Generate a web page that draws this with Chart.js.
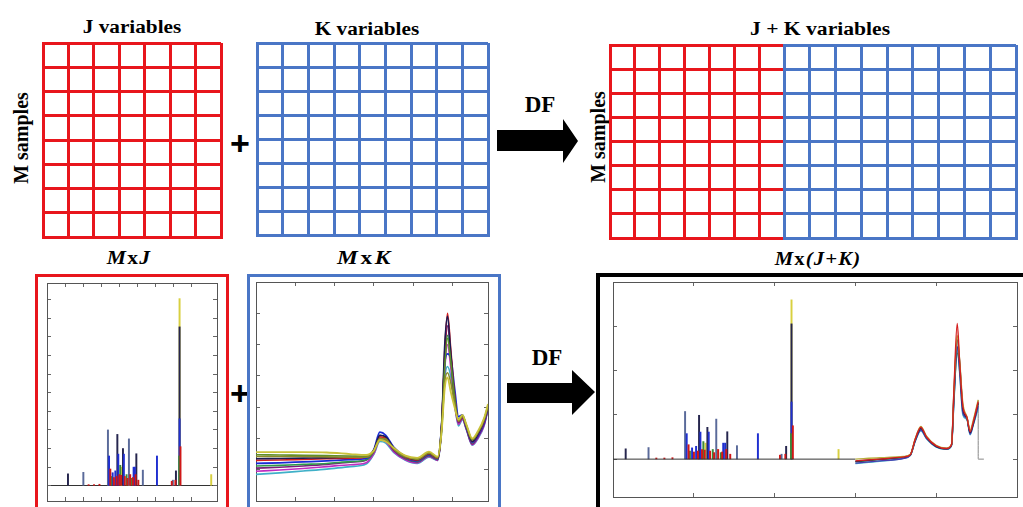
<!DOCTYPE html>
<html><head><meta charset="utf-8">
<script src="https://cdn.jsdelivr.net/npm/chart.js@4"></script>
<style>
html,body{margin:0;padding:0;background:#fff;}
#wrap{position:relative;width:1023px;height:507px;overflow:hidden;background:#fff;}
canvas{position:absolute;}
.t{position:absolute;font-family:"Liberation Serif","Times New Roman",serif;font-weight:bold;color:#000;white-space:nowrap;line-height:1;}
.box{position:absolute;box-sizing:border-box;}
.arrow{position:absolute;background:#000;}
</style></head>
<body><div id="wrap">
<div class="t" style="left:132px;top:27px;font-size:18px;transform:translate(-50%,-50%) scaleX(1.18)">J variables</div>
<div class="t" style="left:367px;top:29px;font-size:18px;transform:translate(-50%,-50%) scaleX(1.18)">K variables</div>
<div class="t" style="left:820px;top:29px;font-size:18px;transform:translate(-50%,-50%) scaleX(1.2)">J + K variables</div>
<div class="t" style="left:21px;top:138px;font-size:20px;transform:translate(-50%,-50%) rotate(-90deg)">M samples</div>
<div class="t" style="left:598px;top:137px;font-size:20px;transform:translate(-50%,-50%) rotate(-90deg)">M samples</div>
<div class="t" style="left:240px;top:143px;font-size:34px;font-family:'Liberation Sans',Arial,sans-serif;transform:translate(-50%,-50%)">+</div>
<div class="t" style="left:240px;top:393px;font-size:34px;font-family:'Liberation Sans',Arial,sans-serif;transform:translate(-50%,-50%)">+</div>
<div class="t" style="left:540px;top:104px;font-size:23px;transform:translate(-50%,-50%)">DF</div>
<div class="t" style="left:547px;top:357px;font-size:23px;transform:translate(-50%,-50%)">DF</div>
<div class="t" style="left:129px;top:258px;font-size:18px;letter-spacing:1px;transform:translate(-50%,-50%) scaleX(1.2)"><i>M</i>x<i>J</i></div>
<div class="t" style="left:365px;top:258px;font-size:18px;letter-spacing:2px;transform:translate(-50%,-50%) scaleX(1.3)"><i>M</i>x<i>K</i></div>
<div class="t" style="left:818px;top:259px;font-size:18px;letter-spacing:1px;transform:translate(-50%,-50%) scaleX(1.15)"><i>M</i>x<i>(J+K)</i></div>
<div class="arrow" style="left:497px;top:119px;width:81px;height:44px;clip-path:polygon(0 11px,66px 11px,66px 0,81px 22px,66px 44px,66px 32px,0 32px)"></div>
<div class="arrow" style="left:507px;top:370px;width:88px;height:45px;clip-path:polygon(0 13px,65px 13px,65px 0,88px 22px,65px 45px,65px 33px,0 33px)"></div>

<canvas id="gJ" width="184" height="200" style="left:40px;top:40px"></canvas>
<canvas id="gK" width="237" height="198" style="left:254px;top:40px"></canvas>
<canvas id="gJK1" width="180" height="199" style="left:607px;top:42px"></canvas>
<canvas id="gJK2" width="238" height="199" style="left:781px;top:42px"></canvas>

<div class="box" style="left:35px;top:274px;width:194px;height:250px;border:3px solid #e8161c"></div>
<div class="box" style="left:247px;top:274px;width:254px;height:250px;border:3px solid #4a76c6"></div>
<div class="box" style="left:596px;top:273px;width:440px;height:250px;border:4px solid #000"></div>
<canvas id="cJ" width="188" height="230" style="left:38px;top:277px"></canvas>
<canvas id="cK" width="248" height="230" style="left:250px;top:277px"></canvas>
<canvas id="cJK" width="423" height="230" style="left:600px;top:277px"></canvas>
</div>
<script>
// ---------- top matrices ----------
const jVariables = 7;
const kVariables = 9;
const mSamples = 8;

// ---------- MxJ spectra (spikes) ----------
const spikeRedX    = [2.3, 2.6, 2.9, 3.5, 3.7, 3.85, 4.0, 4.1, 4.3, 4.45, 4.6, 4.75, 4.9, 5.05, 6.9, 7.1, 7.38];
const spikeRedY    = [0.03, 0.03, 0.04, 0.45, 0.22, 0.25, 0.3, 0.28, 0.25, 0.2, 0.3, 0.22, 0.3, 0.15, 0.12, 0.15, 1.05];
const spikeGreenX  = [3.55, 4.05, 4.4, 4.7, 7.31];
const spikeGreenY  = [0.25, 0.55, 0.3, 0.2, 0.8];
const spikeBlueX   = [3.43, 3.63, 3.78, 3.94, 4.25, 4.79, 4.86, 6.08, 7.33];
const spikeBlueY   = [0.8, 0.35, 0.4, 0.85, 0.85, 0.5, 0.5, 0.8, 1.8];
const spikeGreyX   = [2.01, 3.37, 4.53, 5.3, 6.96];
const spikeGreyY   = [0.36, 1.5, 1.26, 0.42, 0.15];
const spikeNavyX   = [1.16, 3.89, 4.2, 4.94, 7.13, 7.33];
const spikeNavyY   = [0.32, 1.38, 1.0, 0.86, 0.4, 4.27];
const spikeYellowX = [4.13, 4.55, 7.33, 9.08];
const spikeYellowY = [0.5, 0.3, 5.03, 0.3];

// ---------- MxK spectra ----------
const nirX       = [0, 0.6, 1.2, 1.8, 2.4, 2.8, 3.0, 3.15, 3.3, 3.5, 3.8, 4.1, 4.4, 4.62, 4.72, 4.8, 4.87, 4.95, 5.05, 5.15, 5.25, 5.35, 5.5, 5.65, 5.8, 5.9];
const nirYellow  = [1.56,1.56,1.56,1.55,1.5,1.47,1.62,1.95,1.9,1.7,1.45,1.38,1.58,1.42,2.2,3.6,3.95,3.5,3.0,2.6,2.75,2.45,2.0,2.25,2.65,3.1];
const nirOlive   = [1.48,1.47,1.46,1.45,1.44,1.43,1.6,2.0,1.95,1.68,1.42,1.35,1.55,1.4,2.3,4.3,5.2,4.5,3.3,2.6,2.72,2.4,1.95,2.2,2.6,3.05];
const nirKhaki   = [1.42,1.42,1.42,1.41,1.4,1.4,1.6,2.0,1.98,1.66,1.42,1.33,1.53,1.38,2.3,3.8,4.1,3.8,3.1,2.55,2.7,2.42,1.96,2.2,2.6,3.05];
const nirNavy    = [1.35,1.36,1.37,1.38,1.4,1.42,1.64,2.1,2.05,1.7,1.43,1.32,1.52,1.38,2.45,5.0,5.9,4.8,3.3,2.58,2.72,2.4,1.9,2.15,2.58,3.02];
const nirRed     = [1.3,1.31,1.33,1.35,1.37,1.4,1.62,2.05,2.0,1.68,1.4,1.3,1.5,1.36,2.4,4.8,6.0,4.9,3.4,2.55,2.7,2.38,1.9,2.15,2.55,3.0];
const nirBlue    = [1.2,1.22,1.25,1.28,1.32,1.36,1.65,2.2,2.1,1.72,1.4,1.28,1.48,1.35,2.4,4.4,4.7,4.6,3.6,2.7,2.75,2.35,1.88,2.1,2.5,2.98];
const nirGreen   = [1.12,1.14,1.17,1.2,1.26,1.32,1.6,2.1,2.02,1.66,1.37,1.26,1.46,1.33,2.4,4.5,5.3,4.6,3.4,2.6,2.72,2.36,1.86,2.12,2.52,2.98];
const nirPurple  = [1.05,1.08,1.12,1.17,1.24,1.3,1.58,2.0,1.95,1.62,1.35,1.25,1.45,1.32,2.35,4.6,5.6,4.7,3.2,2.5,2.65,2.3,1.82,2.06,2.45,2.95];
const nirMagenta = [0.95,0.99,1.04,1.1,1.16,1.22,1.52,1.95,1.9,1.58,1.32,1.22,1.42,1.3,2.3,4.2,5.0,4.3,3.1,2.45,2.62,2.3,1.8,2.03,2.42,2.93];
const nirCyan    = [0.85,0.9,0.96,1.02,1.1,1.18,1.5,1.9,1.85,1.55,1.3,1.2,1.4,1.3,2.2,3.9,4.3,4.0,3.1,2.4,2.6,2.28,1.78,2.0,2.4,2.92];

// ---------- Mx(J+K) fused spectra (K part) ----------
const fusedX      = [3.0, 3.3, 3.6, 3.68, 3.74, 3.81, 3.88, 4.0, 4.13, 4.19, 4.22, 4.26, 4.29, 4.33, 4.38, 4.42, 4.46, 4.52];
const fusedOlive  = [0.0,0.03,0.06,0.11,0.46,0.74,0.52,0.31,0.25,0.34,1.55,2.8,2.24,1.26,0.96,0.66,0.89,1.34];
const fusedRed    = [-0.04,0.0,0.05,0.1,0.45,0.72,0.5,0.3,0.24,0.33,1.6,3.07,2.2,1.2,0.95,0.62,0.85,1.3];
const fusedNavy   = [-0.05,0.0,0.05,0.1,0.44,0.7,0.5,0.29,0.24,0.33,1.5,2.7,2.2,1.15,0.94,0.6,0.83,1.28];
const fusedGreen  = [-0.06,-0.01,0.04,0.1,0.42,0.68,0.48,0.28,0.23,0.32,1.4,2.4,2.1,1.1,0.92,0.6,0.8,1.25];
const fusedPurple = [-0.09,-0.04,0.02,0.09,0.41,0.66,0.47,0.28,0.23,0.32,1.35,2.55,2.0,1.05,0.92,0.57,0.8,1.2];
const fusedCyan   = [-0.1,-0.05,0.02,0.08,0.4,0.64,0.46,0.27,0.22,0.31,1.3,2.5,1.95,1.0,0.9,0.55,0.78,1.15];
const fusedBaseX  = [0, 3.0];
const fusedBaseY  = [0, 0];
const fusedDropX  = [4.52, 4.52, 4.59];
const fusedDropY  = [1.34, 0, 0];

// ---------- colours ----------
const RED = '#e8161c', BLUE = '#4a76c6';

const pts = (xs, ys) => xs.map((x, i) => ({x: x, y: ys[i]}));
const base = {
  responsive: false, animation: false, events: [],
  plugins: {legend: {display: false}, tooltip: {enabled: false}},
  elements: {point: {radius: 0}}
};
const noSize = s => { if (s.isHorizontal()) s.height = 0; else s.width = 0; };

function gridChart(id, cols, rows, color) {
  const ax = (pos, max) => ({
    type: 'linear', position: pos, min: 0, max: max, offset: false,
    ticks: {display: false, stepSize: 1},
    grid: {color: color, lineWidth: 3, drawTicks: false, offset: false},
    border: {display: true, color: color, width: 3},
    afterFit: noSize
  });
  new Chart(document.getElementById(id), {
    type: 'scatter', data: {datasets: []},
    options: Object.assign({}, base, {layout: {padding: 3},
      scales: {x: ax('bottom', cols), y: ax('left', rows)}})
  });
}
gridChart('gJ', jVariables, mSamples, RED);
gridChart('gK', kVariables, mSamples, BLUE);
gridChart('gJK1', jVariables, mSamples, RED);
gridChart('gJK2', kVariables, mSamples, BLUE);

function fAx(pos, min, max, step, zero) {
  return {
    type: 'linear', position: pos, min: min, max: max, offset: false,
    ticks: {display: false, stepSize: step},
    grid: {drawOnChartArea: !!zero, offset: false,
      color: zero ? (c => (c.tick && c.tick.value === 0) ? '#333' : 'rgba(0,0,0,0)') : 'rgba(0,0,0,0)',
      drawTicks: true, tickLength: -4, tickColor: '#666', tickWidth: 1, lineWidth: 1},
    border: {display: true, color: '#555', width: 1},
    afterFit: noSize
  };
}

function spikeSets(xid, yid) {
  const mk = (xs, ys, c) => ({type: 'bar', data: pts(xs, ys), backgroundColor: c, borderWidth: 0,
    barThickness: 1.3, grouped: false, xAxisID: xid, yAxisID: yid});
  return [
    mk(spikeRedX, spikeRedY, '#d01818'),
    mk(spikeGreenX, spikeGreenY, '#3a8a3a'),
    mk(spikeBlueX, spikeBlueY, '#1f2fd0'),
    mk(spikeGreyX, spikeGreyY, '#5a6a9a'),
    mk(spikeNavyX, spikeNavyY, '#26264e'),
    mk(spikeYellowX, spikeYellowY, '#d8d040')
  ];
}

// MxJ
new Chart(document.getElementById('cJ'), {
  type: 'bar',
  data: {datasets: spikeSets('x', 'y')},
  options: Object.assign({}, base, {
    layout: {padding: {left: 9, right: 9, top: 6, bottom: 6}},
    scales: {
      x: fAx('bottom', 0, 9.4, 1), x2: fAx('top', 0, 9.4, 1),
      y: fAx('left', -0.41, 5.45, 0.5, true), y2: fAx('right', -0.41, 5.45, 0.5)
    }
  })
});

// MxK
const lineSet = (xs, ys, c, w) => ({type: 'line', data: pts(xs, ys), borderColor: c, borderWidth: w,
  pointRadius: 0, cubicInterpolationMode: 'monotone', fill: false});
new Chart(document.getElementById('cK'), {
  type: 'line',
  data: {datasets: [
    lineSet(nirX, nirYellow, '#c9c23a', 1.8),
    lineSet(nirX, nirKhaki, '#8a8a2a', 1.6),
    lineSet(nirX, nirOlive, '#5f8f2a', 1.6),
    lineSet(nirX, nirNavy, '#1b1b55', 1.6),
    lineSet(nirX, nirRed, '#d41f1f', 1.6),
    lineSet(nirX, nirBlue, '#1a2bd6', 1.8),
    lineSet(nirX, nirGreen, '#2e9a4a', 1.6),
    lineSet(nirX, nirPurple, '#7a1f7a', 1.6),
    lineSet(nirX, nirMagenta, '#c02cc0', 1.6),
    lineSet(nirX, nirCyan, '#3fb0c8', 1.6)
  ]},
  options: Object.assign({}, base, {
    layout: {padding: {left: 6, right: 10, top: 5, bottom: 6}},
    scales: {
      x: fAx('bottom', 0, 5.9, 1), x2: fAx('top', 0, 5.9, 1),
      y: fAx('left', 0, 7, 1), y2: fAx('right', 0, 7, 1)
    }
  })
});

// Mx(J+K)
const hid = (axis, pos, min, max) => ({type: 'linear', axis: axis, position: pos, display: false, offset: false, min: min, max: max});
new Chart(document.getElementById('cJK'), {
  type: 'bar',
  data: {datasets: [
    lineSet(fusedX, fusedRed, '#d41f1f', 1.4),
    lineSet(fusedX, fusedOlive, '#b8b040', 1.4),
    lineSet(fusedX, fusedNavy, '#1b1b55', 1.4),
    lineSet(fusedX, fusedPurple, '#4a3ab0', 1.4),
    lineSet(fusedX, fusedGreen, '#2e9a4a', 1.4),
    lineSet(fusedX, fusedCyan, '#3fb0c8', 1.4),
    lineSet(fusedBaseX, fusedBaseY, '#333', 1),
    lineSet(fusedDropX, fusedDropY, '#888', 1)
  ].concat(spikeSets('xJ', 'yJ'))},
  options: Object.assign({}, base, {
    layout: {padding: {left: 13, right: 6, top: 5, bottom: 10}},
    scales: {
      x: fAx('bottom', 0, 5, 1), x2: fAx('top', 0, 5, 1),
      y: fAx('left', -0.857, 4.008, 1), y2: fAx('right', -0.857, 4.008, 1),
      xJ: hid('x', 'bottom', 0.688, 15.72),
      yJ: hid('y', 'left', -1.203, 5.594)
    }
  })
});
</script>
</body></html>
